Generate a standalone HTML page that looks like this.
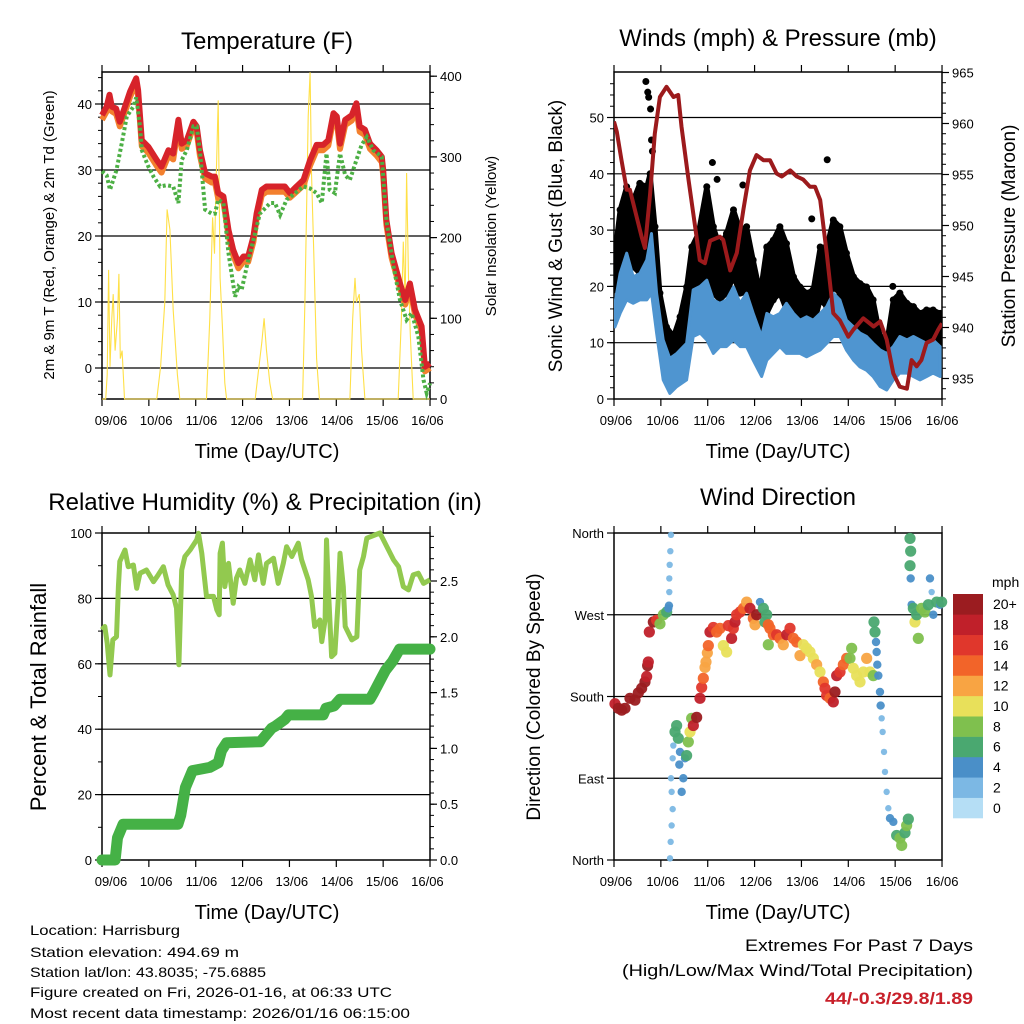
<!DOCTYPE html>
<html><head><meta charset="utf-8"><style>
html,body{margin:0;padding:0;background:#fff;}
svg{display:block;font-family:"Liberation Sans",sans-serif;}
</style></head><body>
<svg id="chart" width="1024" height="1024" viewBox="0 0 1024 1024" xmlns="http://www.w3.org/2000/svg">
<rect x="0" y="0" width="1024" height="1024" fill="#fff"/>
<text x="267" y="49" font-size="24" text-anchor="middle">Temperature (F)</text>
<text x="778" y="46" font-size="24" text-anchor="middle">Winds (mph) &amp; Pressure (mb)</text>
<text x="265" y="510" font-size="24" text-anchor="middle">Relative Humidity (%) &amp; Precipitation (in)</text>
<text x="778" y="505" font-size="24" text-anchor="middle">Wind Direction</text>
<text x="267" y="458" font-size="20" text-anchor="middle">Time (Day/UTC)</text>
<text x="778" y="458" font-size="20" text-anchor="middle">Time (Day/UTC)</text>
<text x="267" y="919" font-size="20" text-anchor="middle">Time (Day/UTC)</text>
<text x="778" y="919" font-size="20" text-anchor="middle">Time (Day/UTC)</text>
<text transform="translate(54,235) rotate(-90)" font-size="15" text-anchor="middle">2m &amp; 9m T (Red, Orange) &amp; 2m Td (Green)</text>
<text transform="translate(496,236) rotate(-90)" font-size="15" text-anchor="middle">Solar Insolation (Yellow)</text>
<text transform="translate(562,236) rotate(-90)" font-size="19" text-anchor="middle">Sonic Wind &amp; Gust (Blue, Black)</text>
<text transform="translate(1015,236) rotate(-90)" font-size="19" text-anchor="middle">Station Pressure (Maroon)</text>
<text transform="translate(46,697) rotate(-90)" font-size="22" text-anchor="middle">Percent &amp; Total Rainfall</text>
<text transform="translate(540,697) rotate(-90)" font-size="19" text-anchor="middle">Direction (Colored By Speed)</text>
<g font-size="14">
<text x="30" y="935" textLength="150" lengthAdjust="spacingAndGlyphs">Location: Harrisburg</text>
<text x="30" y="957" textLength="209" lengthAdjust="spacingAndGlyphs">Station elevation: 494.69 m</text>
<text x="30" y="977" textLength="236" lengthAdjust="spacingAndGlyphs">Station lat/lon: 43.8035; -75.6885</text>
<text x="30" y="997" textLength="362" lengthAdjust="spacingAndGlyphs">Figure created on Fri, 2026-01-16, at 06:33 UTC</text>
<text x="30" y="1018" textLength="380" lengthAdjust="spacingAndGlyphs">Most recent data timestamp: 2026/01/16 06:15:00</text>
</g>
<text x="973" y="951" font-size="17" text-anchor="end" textLength="228" lengthAdjust="spacingAndGlyphs">Extremes For Past 7 Days</text>
<text x="973" y="976" font-size="17" text-anchor="end" textLength="351" lengthAdjust="spacingAndGlyphs">(High/Low/Max Wind/Total Precipitation)</text>
<text x="973" y="1004" font-size="17" font-weight="bold" fill="#c8202a" text-anchor="end" textLength="148" lengthAdjust="spacingAndGlyphs">44/-0.3/29.8/1.89</text>
</svg>
<script>
// ---------- Temperature data ----------
const tempTime=[0,0.10,0.16,0.21,0.30,0.38,0.49,0.60,0.73,0.77,0.85,0.99,1.17,1.27,1.42,1.52,1.63,1.70,1.81,1.95,2.02,2.09,2.20,2.34,2.41,2.48,2.59,2.70,2.80,2.91,3.02,3.12,3.23,3.30,3.41,3.51,3.73,3.90,4.01,4.15,4.30,4.44,4.58,4.72,4.83,4.94,5.01,5.08,5.19,5.33,5.43,5.50,5.61,5.72,5.86,5.97,6.00,6.07,6.18,6.36,6.47,6.57,6.68,6.82,6.89,7.0];
const temp2m=[38.3,39.6,41.4,39.6,39.3,37.3,39.6,41.9,43.9,42.1,34.5,33.5,31.5,30.5,33.0,32.5,37.6,34.0,34.5,37.3,36.6,33.0,29.5,29.0,29.0,26.5,26.0,20.9,17.9,15.9,16.9,16.9,19.9,23.4,27.0,27.5,27.5,27.5,26.5,27.5,28.5,31.5,33.8,33.8,34.5,38.6,38.1,34.0,37.6,38.3,40.1,36.6,36.1,34.0,33.0,32.0,30.0,22.4,17.4,12.8,10.3,12.8,8.8,6.3,0.2,0.7];
const temp9m=[37.6,38.9,40.6,38.9,38.5,36.6,38.8,41.1,43.1,41.3,33.6,32.6,30.6,29.6,32.2,31.6,36.8,33.2,33.7,36.5,35.8,32.2,28.7,28.1,28.2,25.7,25.2,20.1,17.1,15.1,16.1,16.1,19.1,22.6,26.2,26.7,26.7,26.7,25.8,26.7,27.7,30.7,33.0,33.0,33.7,37.8,37.3,33.2,36.8,37.5,39.3,35.8,35.3,33.2,32.2,31.2,29.2,21.7,16.7,12.1,9.6,12.1,8.1,5.6,-0.5,0.0];
const dewTime=[0,0.10,0.17,0.31,0.42,0.53,0.67,0.73,0.81,0.85,0.99,1.10,1.24,1.38,1.52,1.63,1.70,1.81,1.95,2.02,2.09,2.20,2.34,2.41,2.48,2.59,2.70,2.84,2.91,2.98,3.09,3.23,3.37,3.59,3.69,3.80,3.94,4.12,4.30,4.44,4.58,4.69,4.79,4.86,4.97,5.08,5.19,5.29,5.43,5.54,5.65,5.79,5.97,6.07,6.22,6.36,6.50,6.61,6.75,6.86,6.93,7.0];
const dewPoint=[29.8,29.2,27.0,30.0,34.0,38.1,39.6,41.0,36.6,33.0,30.5,29.0,27.5,27.7,27.5,25.0,31.5,33.0,36.6,36.6,33.0,24.0,23.4,23.4,25.5,25.0,17.4,10.8,12.3,11.8,15.4,19.4,23.4,25.0,25.0,23.2,25.5,26.5,27.5,27.2,26.5,25.0,32.5,27.0,26.5,32.5,29.2,28.5,31.5,33.8,35.0,33.0,32.0,22.4,15.4,10.3,7.3,8.3,4.8,-1.8,-3.8,-2.3];
const solarTime=[0,0.08,0.11,0.14,0.17,0.21,0.24,0.28,0.33,0.36,0.39,0.43,0.48,1.17,1.25,1.34,1.39,1.45,1.52,1.61,1.66,2.23,2.30,2.36,2.40,2.43,2.48,2.52,2.57,2.62,2.66,3.27,3.33,3.41,3.46,3.51,3.58,3.64,4.28,4.33,4.37,4.40,4.44,4.47,4.52,4.58,4.64,5.29,5.35,5.40,5.43,5.49,5.54,5.61,6.32,6.39,6.43,6.47,6.50,6.54,6.58,6.64,7.0];
const solarVal=[0,0,30,160,40,100,130,60,100,155,50,60,0,0,40,120,235,210,110,30,0,0,100,225,180,260,370,150,90,20,0,0,30,70,100,60,20,0,0,120,250,350,405,280,180,50,0,0,100,150,120,130,60,0,0,100,195,120,280,150,80,0,0];
const tempTicks=[0,10,20,30,40];
const solarTicks=[0,100,200,300,400];
const dayLabels=["09/06","10/06","11/06","12/06","13/06","14/06","15/06","16/06"];

// ---------- Wind data ----------
const presTime=[0,0.06,0.16,0.27,0.34,0.48,0.59,0.66,0.77,0.87,0.98,1.12,1.27,1.37,1.44,1.59,1.73,1.83,1.94,2.05,2.26,2.33,2.48,2.62,2.76,2.90,3.04,3.19,3.33,3.47,3.58,3.76,3.90,4.04,4.18,4.29,4.40,4.54,4.68,4.82,5.00,5.11,5.32,5.54,5.68,5.82,5.96,6.10,6.25,6.35,6.46,6.56,6.67,6.81,6.92,7.0];
const presVal=[960.2,959.2,956.4,953.5,953.5,950.9,948.9,947.8,953.1,959.0,962.6,963.6,962.6,962.8,959.7,954.5,949.9,946.6,946.3,948.5,948.9,948.6,945.6,947.3,951.5,955.4,956.9,956.4,956.4,955.1,954.8,955.4,954.8,954.5,953.8,953.8,952.5,947.3,941.4,940.7,939.1,939.8,940.9,940.1,940.6,938.8,935.5,934.2,934.0,936.8,936.2,936.8,938.5,938.8,939.8,940.4];
const windTime=[0.02,0.13,0.27,0.41,0.55,0.70,0.80,0.91,1.05,1.19,1.34,1.55,1.69,1.84,1.98,2.12,2.26,2.40,2.55,2.69,2.83,2.97,3.15,3.26,3.40,3.54,3.68,3.83,3.97,4.11,4.25,4.40,4.54,4.68,4.82,4.96,5.11,5.25,5.39,5.53,5.68,5.82,5.96,6.10,6.25,6.39,6.53,6.67,6.81,6.96];
const windHi=[17.0,22.3,25.9,21.7,22.3,24.7,29.4,18.8,10.5,7.2,8.1,9.9,19.4,20.0,21.1,17.6,17.0,17.6,19.9,17.0,18.8,15.2,11.1,15.2,14.6,15.2,17.0,15.2,14.0,14.6,14.0,15.2,16.4,18.8,17.6,14.0,12.8,11.7,11.1,9.9,8.7,8.1,9.3,11.1,10.5,11.1,10.5,9.9,10.5,9.3];
const windLo=[12.8,15.2,17.6,17.0,17.6,17.6,18.8,11.7,3.4,1.0,2.2,3.4,11.1,11.7,10.5,8.1,9.3,9.3,10.5,9.3,9.3,6.9,4.0,6.9,8.1,9.3,8.1,8.1,8.1,7.5,8.1,8.7,9.9,11.1,11.1,8.7,6.9,5.7,5.1,4.0,2.2,1.6,3.4,4.6,4.6,4.0,3.4,4.0,4.6,4.0];
const gustTime=[0.02,0.13,0.27,0.41,0.55,0.70,0.77,0.875,0.98,1.12,1.27,1.41,1.55,1.66,1.80,1.98,2.12,2.26,2.40,2.55,2.69,2.83,2.97,3.12,3.26,3.40,3.54,3.68,3.83,3.97,4.11,4.25,4.40,4.54,4.68,4.82,4.96,5.11,5.25,5.39,5.53,5.68,5.82,5.96,6.10,6.25,6.39,6.53,6.67,6.81,6.96];
const gustHi=[25.9,33.6,37.7,35.3,38.3,37.7,40.0,30.6,18.8,12.8,11.1,14.6,19.9,27.0,29.4,37.7,30.6,27.0,29.4,33.6,30.0,30.6,24.7,18.8,27.0,28.2,30.6,27.6,21.7,19.9,18.8,19.4,27.0,27.0,31.8,30.6,25.9,21.7,20.5,19.9,17.6,11.1,9.9,17.6,18.8,17.0,16.4,15.2,15.8,15.8,15.2];
const gustLo=[19.4,22.3,24.7,23.5,22.3,27.0,30.6,22.3,11.7,4.0,5.7,6.9,9.9,18.8,19.9,22.3,18.8,17.6,18.8,21.7,18.8,18.8,12.8,8.1,15.2,17.6,18.8,15.8,12.8,11.7,11.7,12.8,17.6,16.4,19.9,18.8,15.2,11.7,11.1,9.3,6.9,5.1,3.4,7.5,9.3,8.1,8.7,7.5,9.3,9.3,8.7];
const gustOutT=[0.68,0.72,0.74,0.78,0.80,0.82,0.30,0.42,2.10,4.55,2.20,2.75,4.22,5.95];
const gustOutV=[56.4,54.5,53.6,51.5,46.0,44.0,36.5,35.0,42.0,42.5,39.0,38.0,32.0,20.0];
const windTicks=[0,10,20,30,40,50];
const presTicks=[935,940,945,950,955,960,965];

// ---------- RH / Precip ----------
const rhTime=[0,0.06,0.11,0.17,0.23,0.31,0.35,0.38,0.49,0.56,0.67,0.74,0.81,0.95,1.10,1.20,1.31,1.41,1.52,1.59,1.64,1.70,1.77,1.88,2.02,2.06,2.13,2.23,2.38,2.45,2.50,2.52,2.57,2.62,2.70,2.80,2.87,2.94,3.05,3.16,3.26,3.34,3.44,3.51,3.66,3.76,3.87,3.94,4.05,4.19,4.26,4.40,4.47,4.54,4.65,4.69,4.76,4.79,4.83,4.90,4.97,5.04,5.08,5.15,5.19,5.33,5.44,5.50,5.58,5.65,5.93,6.08,6.22,6.33,6.43,6.54,6.64,6.75,6.86,7.0];
const rhVal=[70.4,71.4,66.3,56.6,67.3,68.3,83.6,91.3,94.8,89.7,90.2,83.1,87.7,88.7,85.1,87.2,89.7,84.1,81.1,77.0,59.7,88.7,92.8,94.8,97.9,99.9,93.8,80.6,80.6,76.5,75.0,93.8,96.9,83.6,90.7,78.5,86.2,88.7,84.6,91.8,85.7,93.3,84.6,90.7,92.3,84.6,90.7,95.8,92.8,96.9,91.8,85.7,80.6,71.4,73.4,66.8,73.4,97.9,83.6,62.2,63.2,79.5,93.8,83.6,71.4,67.3,68.3,88.7,92.8,98.4,100,95.8,91.8,89.7,83.6,82.6,87.2,87.7,84.6,85.7];
const rainTime=[0,0.28,0.33,0.45,1.62,1.68,1.78,1.93,2.3,2.48,2.55,2.66,3.38,3.5,3.62,3.7,3.9,3.98,4.72,4.78,4.95,5.08,5.72,5.8,5.95,6.05,6.2,6.35,7.0];
const rainVal=[0,0,0.2,0.32,0.32,0.4,0.65,0.8,0.83,0.87,0.98,1.05,1.06,1.12,1.18,1.2,1.26,1.3,1.3,1.36,1.38,1.44,1.44,1.5,1.62,1.7,1.78,1.89,1.89];
const rhTicks=[0,20,40,60,80,100];
const rainTicks=[0,0.5,1.0,1.5,2.0,2.5];

// ---------- Wind direction ----------
const dirTime=[0.021,0.093,0.164,0.235,0.341,0.448,0.519,0.59,0.661,0.697,0.718,0.732,0.754,0.839,0.91,0.981,1.053,1.124,1.159,1.173,1.18,1.18,1.188,1.202,1.216,1.195,1.209,1.23,1.252,1.23,1.216,1.252,1.266,1.302,1.337,1.373,1.408,1.394,1.479,1.444,1.515,1.55,1.586,1.622,1.657,1.693,1.764,1.835,1.871,1.906,1.942,1.963,1.992,2.013,2.048,2.12,2.191,2.262,2.333,2.404,2.44,2.51,2.546,2.582,2.617,2.689,2.76,2.831,2.902,2.973,3.009,3.044,3.115,3.187,3.222,3.258,3.293,3.329,3.293,3.4,3.471,3.542,3.613,3.685,3.756,3.827,3.898,3.969,4.04,4.111,4.182,4.254,4.325,4.396,4.467,4.503,4.538,4.609,4.68,4.716,4.752,4.823,4.894,4.965,5.036,5.072,5.107,5.178,5.25,5.321,5.392,5.463,5.534,5.548,5.57,5.591,5.605,5.619,5.641,5.676,5.69,5.712,5.733,5.762,5.783,5.818,5.854,5.89,5.961,6.032,6.103,6.139,6.21,6.245,6.281,6.317,6.331,6.317,6.331,6.352,6.388,6.423,6.494,6.459,6.566,6.637,6.708,6.743,6.779,6.814,6.886,6.957,6.992];
const dirDeg=[172,167,165,167,178,176,184,189,196,202,214,218,251,262,264,260,270,273,277,280,295,310,325,340,358,1.8,20,38,56,75,90,112,126,141,148,134,119,105,90,75,112,115,130,141,156,148,157,178,190,200,212,218,228,236,251,256,251,255,236,229,258,244,255,262,270,273,277,284,277,266,259,270,284,277,262,270,259,255,237,248,248,244,237,248,255,244,240,225,237,233,229,222,215,207,196,189,181,178,174,185,203,207,215,222,222,233,211,203,196,207,222,207,203,262,251,240,229,215,203,185,170,156,141,119,97,75,57,46,42,27,24,16,30,38,45,354,340,324,310,281,277,262,244,270,277,273,281,310,295,270,284,281,284];
const dirSpeed=[18,20,20,20,20,20,20,20,20,18,20,18,18,20,16,8,8,6,4,4,2,2,2,2,2,2,2,2,2,2,2,2,2,6,6,6,4,4,4,4,4,6,8,10,8,18,20,18,16,14,12,12,12,14,18,16,14,14,10,10,16,18,16,18,16,16,14,12,18,14,12,20,4,6,6,6,14,14,8,14,16,14,12,18,16,14,14,12,10,10,10,10,12,10,14,16,16,14,18,20,18,16,14,14,8,8,10,10,10,10,12,10,8,6,6,4,4,4,4,4,4,2,2,2,2,2,2,4,4,6,8,8,6,8,6,6,6,6,4,4,6,10,8,6,8,8,6,4,2,4,6,4,6,4];
const speedColors=["#b5def5","#7cb8e4","#4a8fc8","#4aa870","#7fc04e","#e8e05a","#f8a443","#f26429","#e0372c","#c0202a","#9b1c20"];
const speedLabels=["0","2","4","6","8","10","12","14","16","18","20+"];
const dirTicks=[0,90,180,270,360];
const dirLabels=["North","East","South","West","North"];

// ---------- helpers ----------
const NS="http://www.w3.org/2000/svg";
const svg=document.getElementById('chart');
function mk(tag,attrs,parent){const e=document.createElementNS(NS,tag);for(const k in attrs)e.setAttribute(k,attrs[k]);(parent||svg).appendChild(e);return e;}
function txt(s,x,y,size,anchor,parent){const e=mk('text',{x:x,y:y,'font-size':size,'text-anchor':anchor},parent);e.textContent=s;return e;}
function pathFrom(xs,ys,fx,fy){let d='';for(let i=0;i<xs.length;i++){d+=(i?'L':'M')+fx(xs[i]).toFixed(1)+','+fy(ys[i]).toFixed(1);}return d;}

const DAY=46.86;
const P=[
 {x0:102,x1:430,y0:72,y1:399,lab0:111,labStep:45.2,name:'temperature'},
 {x0:614,x1:942,y0:72,y1:399,lab0:616,labStep:46.6,name:'winds'},
 {x0:102,x1:430,y0:533,y1:860,lab0:111,labStep:45.2,name:'humidity'},
 {x0:614,x1:942,y0:533,y1:860,lab0:616,labStep:46.6,name:'direction'}
];

function frame(p,yl,ylTicks,ylFmt,yr,yrTicks,yrFmt,minorL,minorR){
  const g=mk('g',{});
  
  
  ylTicks.forEach(v=>{const y=yl(v);if(y>p.y0+1&&y<p.y1-1){
    const l=mk('line',{x1:p.x0,x2:p.x1,y1:y,y2:y,stroke:'#000','stroke-width':1.2},g);
    
    }});
  const r=mk('rect',{x:p.x0,y:p.y0,width:p.x1-p.x0,height:p.y1-p.y0,fill:'none',stroke:'#000','stroke-width':1.5},g);
  
  
  for(let i=0;i<8;i++){const x=p.x0+i*DAY;
    mk('line',{x1:x,x2:x,y1:p.y1,y2:p.y1+7,stroke:'#000','stroke-width':1.2},g);
    mk('line',{x1:x,x2:x,y1:p.y0,y2:p.y0-7,stroke:'#000','stroke-width':1.2},g);
    const t=txt(dayLabels[i],p.lab0+i*p.labStep,p.y1+26,13,'middle',g);
    
    }
  ylTicks.forEach((v,i)=>{const y=yl(v);
    mk('line',{x1:p.x0-7,x2:p.x0,y1:y,y2:y,stroke:'#000','stroke-width':1.2},g);
    const t=txt(ylFmt[i],p.x0-10,y+5,13,'end',g);
    
    });
  (minorL||[]).forEach(v=>{const y=yl(v);if(y>=p.y0&&y<=p.y1)mk('line',{x1:p.x0-4,x2:p.x0,y1:y,y2:y,stroke:'#000','stroke-width':1},g);});
  if(yr){
    yrTicks.forEach((v,i)=>{const y=yr(v);
      mk('line',{x1:p.x1,x2:p.x1+7,y1:y,y2:y,stroke:'#000','stroke-width':1.2},g);
      const t=txt(yrFmt[i],p.x1+10,y+5,13,'start',g);
      
      });
    (minorR||[]).forEach(v=>{const y=yr(v);if(y>=p.y0&&y<=p.y1)mk('line',{x1:p.x1,x2:p.x1+4,y1:y,y2:y,stroke:'#000','stroke-width':1},g);});
  }
}
function rng(a,b,s){const o=[];for(let v=a;v<=b+1e-9;v+=s)o.push(+v.toFixed(3));return o;}

// ---------- Panel 1 ----------
{const p=P[0];
 const fx=t=>p.x0+t*DAY, fy=v=>368-v*6.6, fs=v=>399-v*0.807;
 frame(p,fy,tempTicks,tempTicks.map(String),fs,solarTicks,solarTicks.map(String),rng(-4,44,2),rng(0,400,20));
 const s=mk('path',{d:pathFrom(solarTime,solarVal,fx,fs),fill:'none',stroke:'#ffe047','stroke-width':1.1});
 
 
 const o=mk('path',{d:pathFrom(tempTime,temp9m,fx,fy),fill:'none',stroke:'#f3802e','stroke-width':6,'stroke-linejoin':'round'});
 
 
 const r=mk('path',{d:pathFrom(tempTime,temp2m,fx,fy),fill:'none',stroke:'#d7232a','stroke-width':6,'stroke-linejoin':'round'});
 
 
 const d=mk('path',{d:pathFrom(dewTime,dewPoint,fx,fy),fill:'none',stroke:'#4caf44','stroke-width':4,'stroke-dasharray':'3,2.5'});
 
 
}
// ---------- Panel 2 ----------
{const p=P[1];
 const fx=t=>p.x0+t*DAY, fy=v=>399-v*5.63, fp=v=>378.5-(v-935)*10.2;
 frame(p,fy,windTicks,windTicks.map(String),fp,presTicks,presTicks.map(String),rng(0,56,2),rng(933,965,1));
 const clip=mk('clipPath',{id:'c2'});mk('rect',{x:p.x0,y:p.y0,width:p.x1-p.x0,height:p.y1-p.y0},clip);
 const g=mk('g',{'clip-path':'url(#c2)'});
 
 
 let d=pathFrom(gustTime,gustHi,fx,fy);
 for(let i=gustTime.length-1;i>=0;i--)d+='L'+fx(gustTime[i]).toFixed(1)+','+fy(gustLo[i]).toFixed(1);
 const gb=mk('path',{d:d+'Z',fill:'#000',stroke:'#000','stroke-width':5,'stroke-linejoin':'round'},g);
 
 
 for(let i=0;i<gustTime.length;i++){
   [gustHi[i],gustLo[i]].forEach(v=>{const c=mk('circle',{cx:fx(gustTime[i]),cy:fy(v),r:3.5,fill:'#000'},g);
   
   });}
 for(let i=0;i<gustOutT.length;i++){const c=mk('circle',{cx:fx(gustOutT[i]),cy:fy(gustOutV[i]),r:3.5,fill:'#000'},g);
   
   }
 let w=pathFrom(windTime,windHi,fx,fy);
 for(let i=windTime.length-1;i>=0;i--)w+='L'+fx(windTime[i]).toFixed(1)+','+fy(windLo[i]).toFixed(1);
 const wb=mk('path',{d:w+'Z',fill:'#4f95d0',stroke:'#4f95d0','stroke-width':3,'stroke-linejoin':'round'},g);
 
 
 const pr=mk('path',{d:pathFrom(presTime,presVal,fx,fp),fill:'none',stroke:'#9c1a1c','stroke-width':4,'stroke-linejoin':'round'},g);
 
 
}
// ---------- Panel 3 ----------
{const p=P[2];
 const fx=t=>p.x0+t*DAY, fy=v=>860-v*3.27, fr=v=>860-v*111.6;
 frame(p,fy,rhTicks,rhTicks.map(String),fr,rainTicks,rainTicks.map(v=>v.toFixed(1)),rng(0,100,10),rng(0,2.9,0.1));
 const rh=mk('path',{d:pathFrom(rhTime,rhVal,fx,fy),fill:'none',stroke:'#92c94f','stroke-width':5,'stroke-linejoin':'round'});
 
 
 const rn=mk('path',{d:pathFrom(rainTime,rainVal,fx,fr),fill:'none',stroke:'#45b146','stroke-width':11,'stroke-linejoin':'round','stroke-linecap':'round'});
 
 
}
// ---------- Panel 4 ----------
{const p=P[3];
 const fx=t=>p.x0+t*DAY, fy=v=>860-v*0.9083;
 frame(p,fy,dirTicks,dirLabels,null,null,null,[],[]);
 const g=mk('g',{});
 
 
 for(let i=0;i<dirTime.length;i++){
   const ci=Math.min(10,Math.floor(dirSpeed[i]/2));
   const c=mk('circle',{cx:fx(dirTime[i]),cy:fy(dirDeg[i]),r:dirSpeed[i]<=2?3.2:(dirSpeed[i]<=4?4.2:5.6),fill:speedColors[ci],opacity:0.95},g);
   
   
 }
 const cb=mk('g',{});
 
 
 const bh=(818-594)/11;
 for(let i=0;i<11;i++){const y=818-(i+1)*bh;
   const r=mk('rect',{x:953,y:y,width:30,height:bh+0.3,fill:speedColors[i]},cb);
   
   
   const t=txt(speedLabels[i],993,y+bh/2+5,14,'start',cb);
   
   }
 const u=txt('mph',992,587,14,'start',cb);
 
 
}
</script>
</body></html>
